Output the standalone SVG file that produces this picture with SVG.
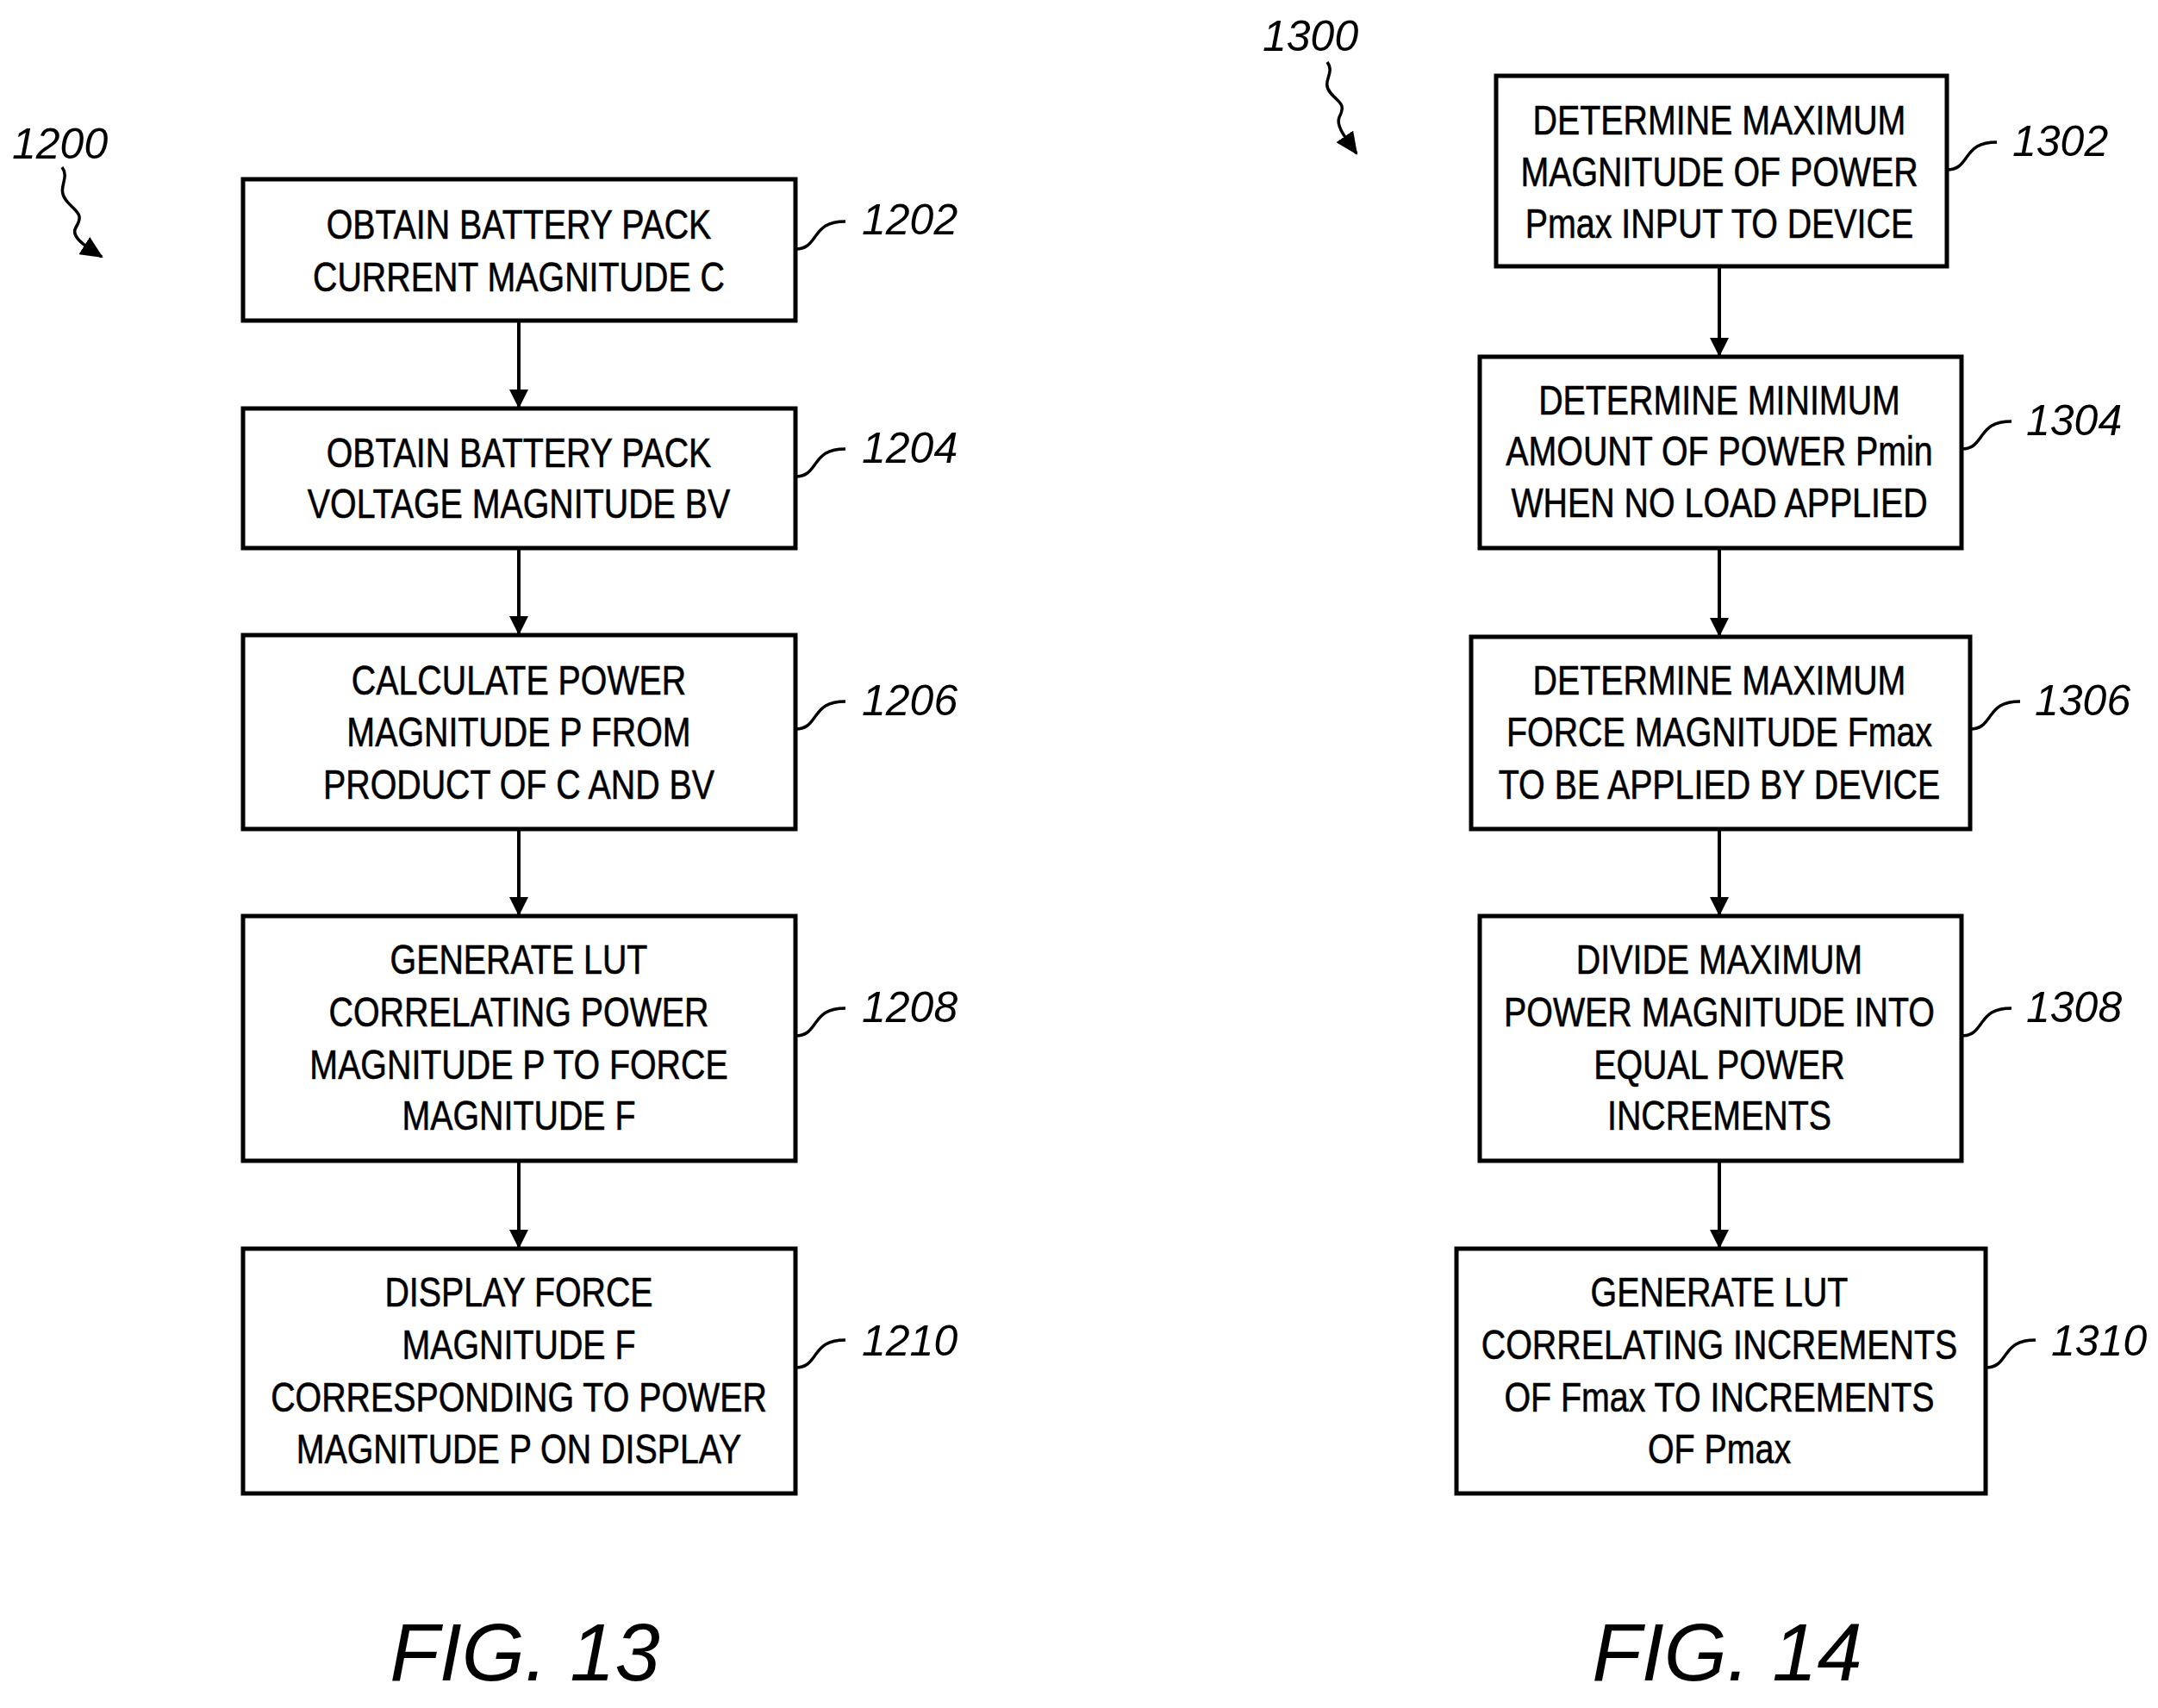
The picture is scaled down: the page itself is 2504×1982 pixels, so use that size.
<svg xmlns="http://www.w3.org/2000/svg" width="2504" height="1982" viewBox="0 0 2504 1982">
<style>
.b{fill:#fff;stroke:#000;stroke-width:5}
.t{font-family:"Liberation Sans",Arial,sans-serif;font-size:48px;text-anchor:middle;fill:#000;stroke:#000;stroke-width:0.6}
.l{font-family:"Liberation Sans",Arial,sans-serif;font-size:50px;font-style:italic;fill:#000}
.f{font-family:"Liberation Sans",Arial,sans-serif;font-size:94px;font-style:italic;text-anchor:middle;fill:#000}
.c{fill:none;stroke:#000;stroke-width:4}
.s{fill:none;stroke:#000;stroke-width:3.5}
</style>
<defs>
<marker id="a" markerWidth="26" markerHeight="24" refX="24" refY="12" orient="auto" markerUnits="userSpaceOnUse" viewBox="0 0 26 24"><path d="M0,0 L26,12 L0,24 z"/></marker>
<marker id="ah" markerWidth="22" markerHeight="22" refX="20" refY="11" orient="auto" markerUnits="userSpaceOnUse" viewBox="0 0 22 22"><path d="M0,0 L22,11 L0,22 z"/></marker>
<path id="sq" d="M0,0 c14,0 18,-8 24,-16 c6,-8 12,-16 34,-16"/>
</defs>
<g id="connectors">
<line class="c" x1="602" y1="372" x2="602" y2="472" marker-end="url(#ah)"/>
<line class="c" x1="602" y1="636" x2="602" y2="735" marker-end="url(#ah)"/>
<line class="c" x1="602" y1="962" x2="602" y2="1061" marker-end="url(#ah)"/>
<line class="c" x1="602" y1="1347" x2="602" y2="1447" marker-end="url(#ah)"/>
<line class="c" x1="1995" y1="309" x2="1995" y2="412" marker-end="url(#ah)"/>
<line class="c" x1="1995" y1="636" x2="1995" y2="737" marker-end="url(#ah)"/>
<line class="c" x1="1995" y1="962" x2="1995" y2="1061" marker-end="url(#ah)"/>
<line class="c" x1="1995" y1="1347" x2="1995" y2="1447" marker-end="url(#ah)"/>
</g>
<g id="n1202"><rect class="b" x="282" y="208" width="641" height="164"/>
<text class="t" transform="translate(602,0) scale(0.82,1)"><tspan x="0" y="277">OBTAIN BATTERY PACK</tspan><tspan x="0" y="338">CURRENT MAGNITUDE C</tspan></text>
<use href="#sq" class="s" x="923" y="289"/><text class="l" x="1000" y="272">1202</text></g>
<g id="n1204"><rect class="b" x="282" y="474" width="641" height="162"/>
<text class="t" transform="translate(602,0) scale(0.82,1)"><tspan x="0" y="542">OBTAIN BATTERY PACK</tspan><tspan x="0" y="601">VOLTAGE MAGNITUDE BV</tspan></text>
<use href="#sq" class="s" x="923" y="553"/><text class="l" x="1000" y="537">1204</text></g>
<g id="n1206"><rect class="b" x="282" y="737" width="641" height="225"/>
<text class="t" transform="translate(602,0) scale(0.82,1)"><tspan x="0" y="806">CALCULATE POWER</tspan><tspan x="0" y="866">MAGNITUDE P FROM</tspan><tspan x="0" y="927">PRODUCT OF C AND BV</tspan></text>
<use href="#sq" class="s" x="923" y="846"/><text class="l" x="1000" y="830">1206</text></g>
<g id="n1208"><rect class="b" x="282" y="1063" width="641" height="284"/>
<text class="t" transform="translate(602,0) scale(0.82,1)"><tspan x="0" y="1130">GENERATE LUT</tspan><tspan x="0" y="1191">CORRELATING POWER</tspan><tspan x="0" y="1252">MAGNITUDE P TO FORCE</tspan><tspan x="0" y="1311">MAGNITUDE F</tspan></text>
<use href="#sq" class="s" x="923" y="1202"/><text class="l" x="1000" y="1186">1208</text></g>
<g id="n1210"><rect class="b" x="282" y="1449" width="641" height="284"/>
<text class="t" transform="translate(602,0) scale(0.82,1)"><tspan x="0" y="1516">DISPLAY FORCE</tspan><tspan x="0" y="1577">MAGNITUDE F</tspan><tspan x="0" y="1638">CORRESPONDING TO POWER</tspan><tspan x="0" y="1698">MAGNITUDE P ON DISPLAY</tspan></text>
<use href="#sq" class="s" x="923" y="1587"/><text class="l" x="1000" y="1573">1210</text></g>
<g id="n1302"><rect class="b" x="1736" y="88" width="523" height="221"/>
<text class="t" transform="translate(1995,0) scale(0.82,1)"><tspan x="0" y="156">DETERMINE MAXIMUM</tspan><tspan x="0" y="216">MAGNITUDE OF POWER</tspan><tspan x="0" y="276">Pmax INPUT TO DEVICE</tspan></text>
<use href="#sq" class="s" x="2259" y="197"/><text class="l" x="2335" y="181">1302</text></g>
<g id="n1304"><rect class="b" x="1717" y="414" width="559" height="222"/>
<text class="t" transform="translate(1995,0) scale(0.82,1)"><tspan x="0" y="481">DETERMINE MINIMUM</tspan><tspan x="0" y="540">AMOUNT OF POWER Pmin</tspan><tspan x="0" y="600">WHEN NO LOAD APPLIED</tspan></text>
<use href="#sq" class="s" x="2276" y="521"/><text class="l" x="2351" y="505">1304</text></g>
<g id="n1306"><rect class="b" x="1707" y="739" width="579" height="223"/>
<text class="t" transform="translate(1995,0) scale(0.82,1)"><tspan x="0" y="806">DETERMINE MAXIMUM</tspan><tspan x="0" y="866">FORCE MAGNITUDE Fmax</tspan><tspan x="0" y="927">TO BE APPLIED BY DEVICE</tspan></text>
<use href="#sq" class="s" x="2286" y="846"/><text class="l" x="2361" y="830">1306</text></g>
<g id="n1308"><rect class="b" x="1717" y="1063" width="559" height="284"/>
<text class="t" transform="translate(1995,0) scale(0.82,1)"><tspan x="0" y="1130">DIVIDE MAXIMUM</tspan><tspan x="0" y="1191">POWER MAGNITUDE INTO</tspan><tspan x="0" y="1252">EQUAL POWER</tspan><tspan x="0" y="1311">INCREMENTS</tspan></text>
<use href="#sq" class="s" x="2276" y="1202"/><text class="l" x="2351" y="1186">1308</text></g>
<g id="n1310"><rect class="b" x="1690" y="1449" width="614" height="284"/>
<text class="t" transform="translate(1995,0) scale(0.82,1)"><tspan x="0" y="1516">GENERATE LUT</tspan><tspan x="0" y="1577">CORRELATING INCREMENTS</tspan><tspan x="0" y="1638">OF Fmax TO INCREMENTS</tspan><tspan x="0" y="1698">OF Pmax</tspan></text>
<use href="#sq" class="s" x="2304" y="1587"/><text class="l" x="2380" y="1573">1310</text></g>
<g id="ref1200"><text class="l" x="14" y="184">1200</text>
<path class="s" d="M72,194 c10,14 -8,24 6,40 c10,12 20,14 10,30 c-6,10 8,20 30,34" marker-end="url(#a)"/></g>
<g id="ref1300"><text class="l" x="1465" y="59">1300</text>
<path class="s" d="M1540,72 c10,14 -8,22 4,36 c10,12 18,12 10,28 c-4,10 6,22 20,42" marker-end="url(#a)"/></g>
<text class="f" x="609" y="1950">FIG. 13</text>
<text class="f" x="2004" y="1950">FIG. 14</text>
</svg>
